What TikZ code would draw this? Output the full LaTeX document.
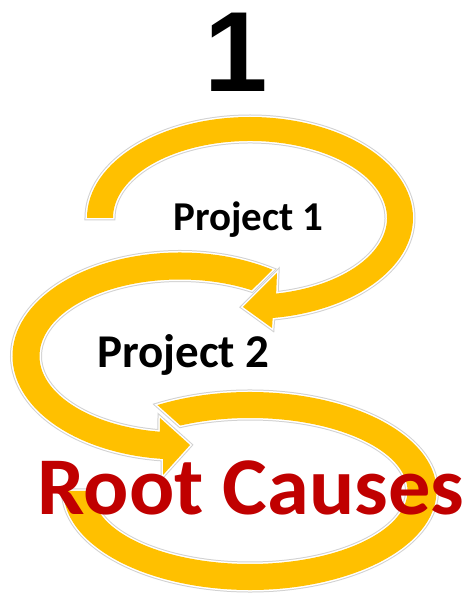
\documentclass[tikz,border=0pt]{standalone}
\usepackage{fontspec}
\setmainfont{Carlito}
\newfontfamily\numfont{Liberation Sans}
\definecolor{loopyellow}{HTML}{FFC000}
\definecolor{causered}{HTML}{C00000}

\begin{document}
\begin{tikzpicture}[x=1pt, y=1pt]
\tikzstyle{band} = [fill=loopyellow, preaction={draw=black!18, line width=5pt}, preaction={draw=white, line width=3pt}]
\tikzstyle{looptext} = [inner sep=0pt, anchor=base]

\fill [white] (0,0) rectangle (472,595);
\useasboundingbox (0,0) rectangle (472,595);

\coordinate (c1) at (250,377);
\coordinate (c2) at (180,239);
\coordinate (c3) at (250,104);

% first loop, head pointing left
\path [band] ([shift={(c1)}]180:163 and 101) arc [start angle=180, end angle=-82, x radius=163, y radius=101]
  -- (272,267) -- (243,288) -- (277,322)
  -- ([shift={(c1)}]-79:137 and 77) arc [start angle=-79, end angle=180, x radius=137, y radius=77] -- cycle;

% second loop, head pointing right
\path [band] ([shift={(c2)}]56.5:167.5 and 103.5) arc [start angle=56.5, end angle=264.2, x radius=167.5, y radius=103.5]
  -- (163,120) -- (190,150) -- (160,177)
  -- ([shift={(c2)}]261.8:140.5 and 76.5) arc [start angle=261.8, end angle=59.3, x radius=140.5, y radius=76.5] -- cycle;

% last loop round the root causes
\path [band] ([shift={(c3)}]119.75:186.5 and 99) arc [start angle=119.75, end angle=-180, x radius=186.5, y radius=99]
  -- ([shift={(c3)}]-180:157.5 and 73) arc [start angle=-180, end angle=116.25, x radius=157.5, y radius=73] -- cycle;

\node (num) [looptext, font=\numfont\bfseries\fontsize{114}{114}\selectfont] at (236,503) {1};
\node (p1) [looptext, font=\bfseries\fontsize{41}{41}\selectfont] at (248.5,364) {Project 1};
\node (p2) [looptext, font=\bfseries\fontsize{47}{47}\selectfont] at (183.5,227) {Project 2};
\node (rc) [looptext, text=causered, xscale=1.03, font=\bfseries\fontsize{82}{82}\selectfont] at (251,80) {Root Causes};

\end{tikzpicture}
\end{document}
